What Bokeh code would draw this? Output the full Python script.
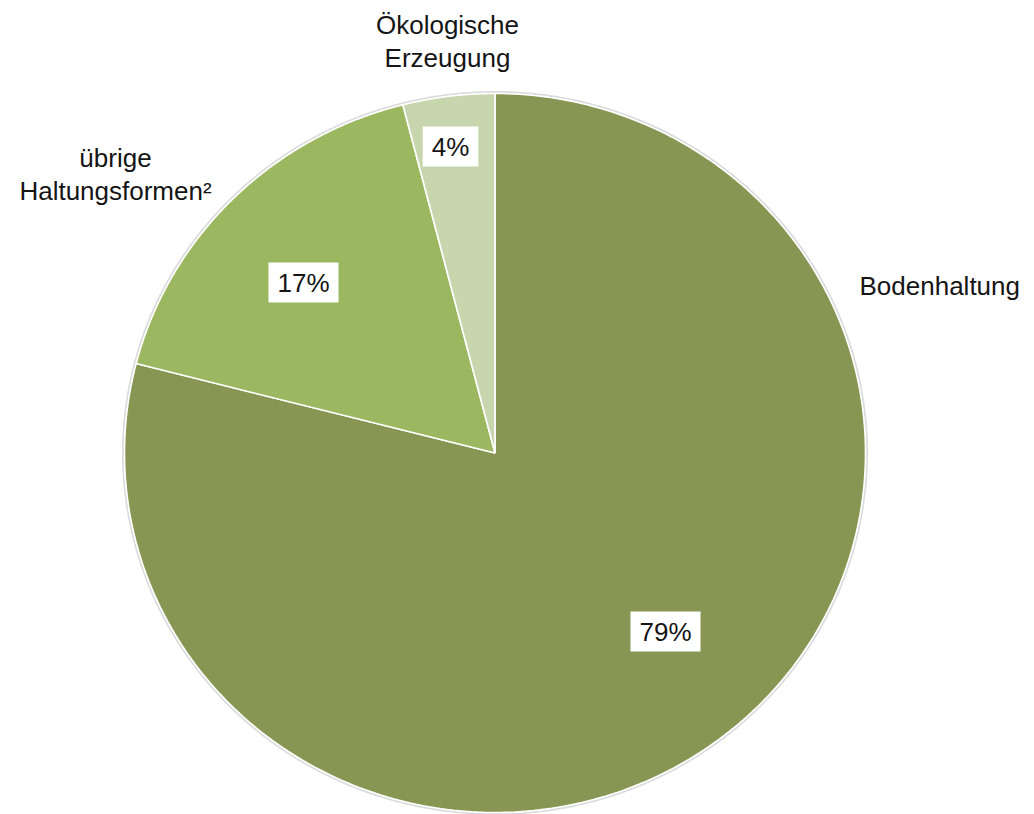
import numpy as np
from bokeh.plotting import figure
from bokeh.models import Range1d, ColumnDataSource
from bokeh.embed import file_html
from bokeh.resources import INLINE
from bokeh.core.properties import value

# ---- data ----
categories = ["Bodenhaltung", "übrige\nHaltungsformen²", "Ökologische\nErzeugung"]
shares = [79, 17, 4]
pct_labels = ["79%", "17%", "4%"]
colors = ["#879652", "#9bb760", "#c8d6ae"]

# ---- layout (pixels) ----
W, H = 1034, 814
cx, cy, rx, ry = 494.5, 452.5, 370.5, 359.5
pct_pos = [(665, 631), (303, 282), (450, 146)]
cat_pos = [(859, 285, "left"), (115, 174, "center"), (447, 41, "center")]
FONT = "Liberation Sans"

p = figure(width=W, height=H, x_range=Range1d(0, W), y_range=Range1d(H, 0),
           output_backend="svg", toolbar_location=None, min_border=0)
p.axis.visible = False
p.grid.visible = False
p.outline_line_color = None
p.background_fill_color = "white"
p.border_fill_color = "white"

total = float(sum(shares))
fr = np.cumsum([0] + shares) / total
xs, ys = [], []
for i in range(len(shares)):
    t = np.linspace(fr[i], fr[i + 1], 300) * 2 * np.pi
    xs.append(np.concatenate([[cx], cx + rx * np.sin(t), [cx]]))
    ys.append(np.concatenate([[cy], cy - ry * np.cos(t), [cy]]))

# faint outer shadow ring
tt = np.linspace(0, 2 * np.pi, 600)
p.line(cx + (rx + 1.5) * np.sin(tt), cy - (ry + 1.5) * np.cos(tt), line_color="#dcdcdc", line_width=2)

p.patches(xs=xs, ys=ys, fill_color=colors, line_color="white", line_width=1.6)

src = ColumnDataSource(dict(x=[q[0] for q in pct_pos], y=[q[1] for q in pct_pos], t=pct_labels))
p.text(x="x", y="y", text="t", source=src, text_font=value(FONT), text_font_size="26px",
       text_color="#151515", text_align="center", text_baseline="middle",
       background_fill_color="white", padding=(9, 5))

for lab, (x, y, al) in zip(categories, cat_pos):
    p.text(x=[x], y=[y], text=[lab], text_font=value(FONT), text_font_size="26px",
           text_color="#151515", text_align=al, text_baseline="middle", text_line_height=1.1)

open("out.html", "w").write(file_html(p, INLINE))
